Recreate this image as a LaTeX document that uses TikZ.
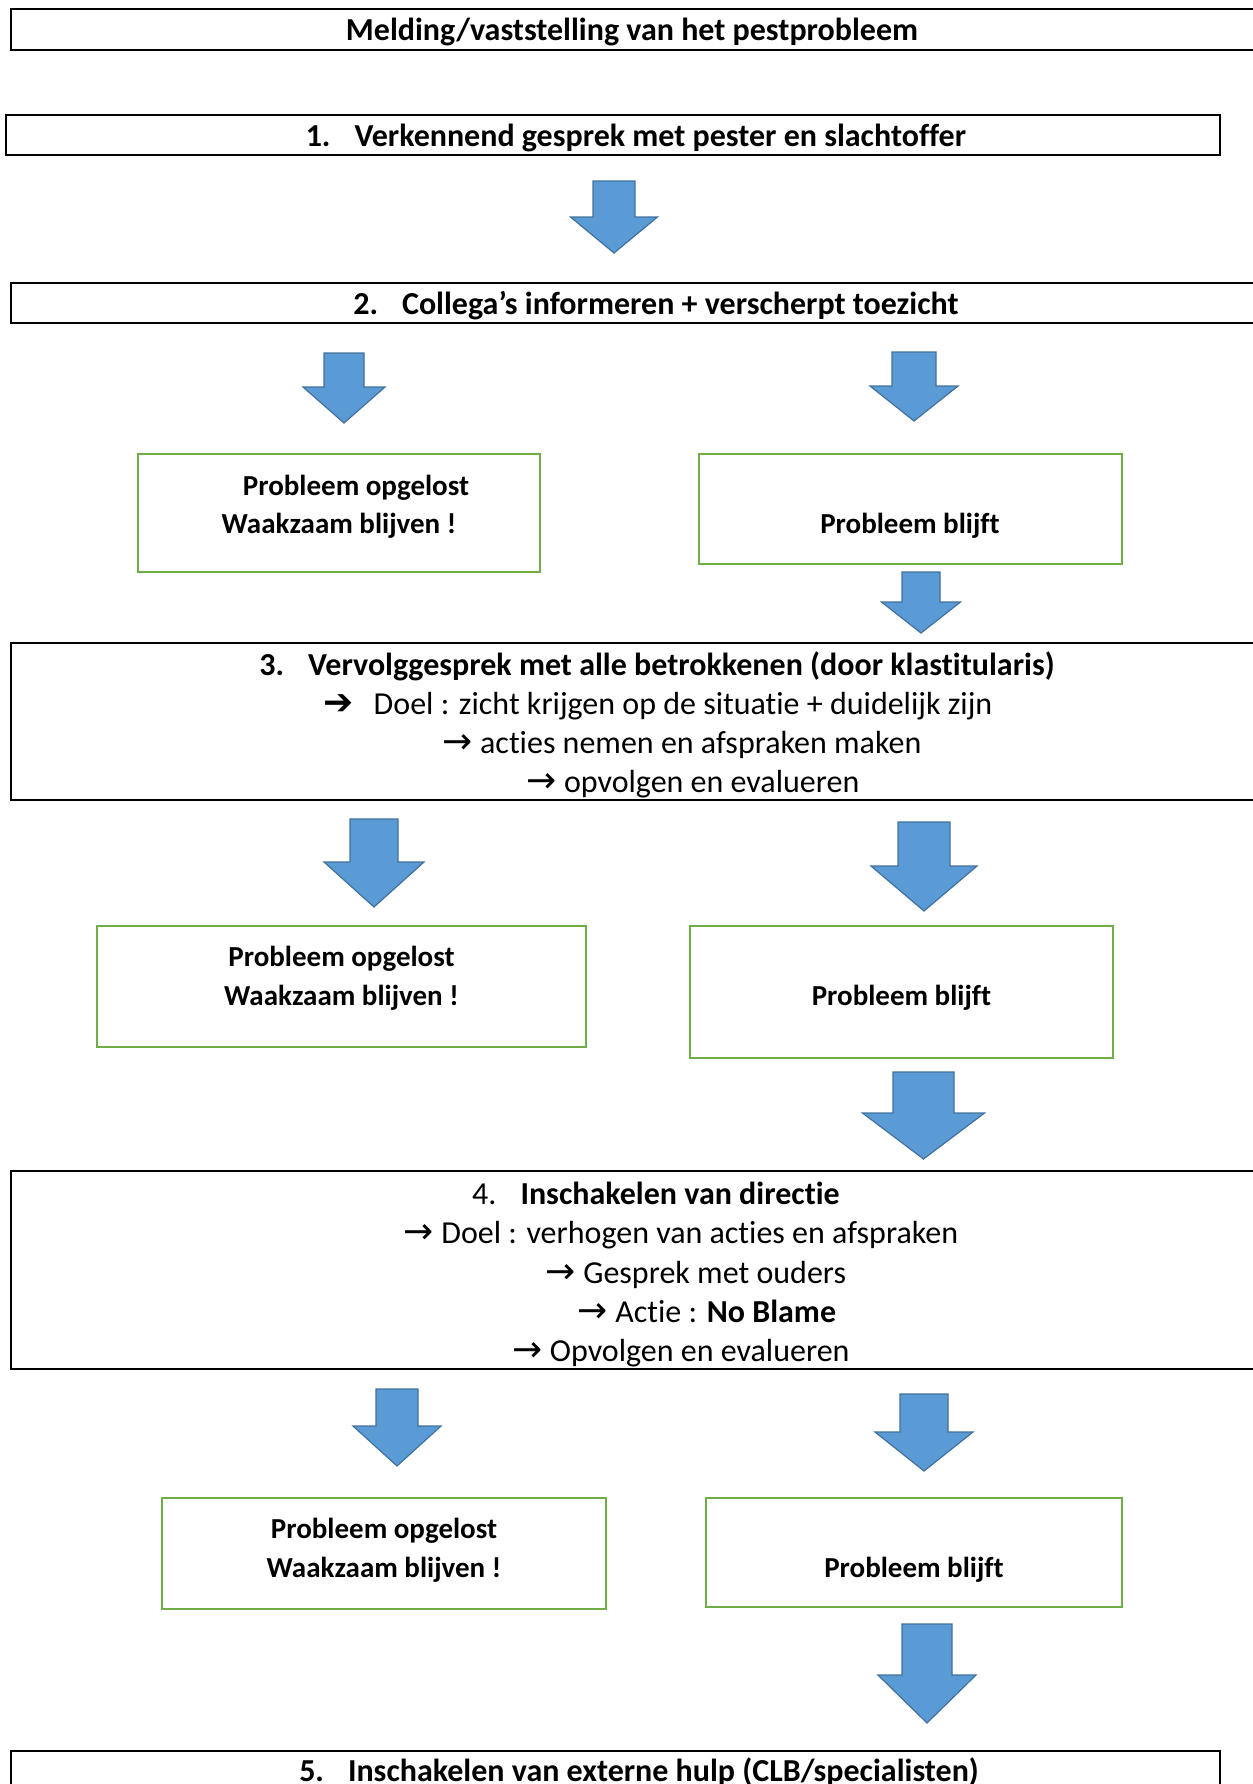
\documentclass[tikz,border=0pt]{standalone}
\usepackage{fontspec}
\setmainfont[Ligatures=NoCommon]{Carlito}
\newfontfamily\symfont{DejaVu Sans}
\usetikzlibrary{fit}
\definecolor{arrowfill}{HTML}{5B9BD5}
\definecolor{arrowline}{HTML}{41719C}
\definecolor{boxgreen}{HTML}{70AD47}
\newcommand\blockarrow[6]{% cx top headstart tip shaftwidth headwidth
  \path[blockarrow] (#1-#5/2,#2) -- (#1+#5/2,#2) -- (#1+#5/2,#3) -- (#1+#6/2,#3) -- (#1,#4)
    -- (#1-#6/2,#3) -- (#1-#5/2,#3) -- cycle;}
\newcommand\thinarr{{\symfont\fontsize{18}{19.5}\selectfont →}}
\begin{document}
\begin{tikzpicture}[x=0.5pt,y=-0.5pt,
  blackbox/.style={draw=black,line width=0.75pt,inner sep=0pt,rectangle},
  greenbox/.style={draw=boxgreen,line width=1pt,inner sep=0pt,rectangle},
  bigtext/.style={font=\fontsize{16}{19.5}\selectfont, inner sep=0pt, anchor=base},
  smalltext/.style={font=\fontsize{14.5}{19.5}\selectfont\bfseries, inner sep=0pt, anchor=base},
  blockarrow/.style={fill=arrowfill,draw=arrowline,line width=0.6pt,line join=miter}]
\useasboundingbox (0,0) rectangle (1253,1784);
\clip (0,0) rectangle (1253,1784);

% black boxes
\node[blackbox, fit={(11,9) (1275,50)}] (b0) {};
\node[blackbox, fit={(6,115) (1220,155)}] (b1) {};
\node[blackbox, fit={(11,283) (1275,323)}] (b2) {};
\node[blackbox, fit={(11,643) (1275,800)}] (b3) {};
\node[blackbox, fit={(11,1171) (1275,1369)}] (b4) {};
\node[blackbox, fit={(11,1751) (1220,1800)}] (b5) {};

% green boxes
\node[greenbox, fit={(138,454) (540,572)}] (g2l) {};
\node[greenbox, fit={(699,454) (1122,564)}] (g2r) {};
\node[greenbox, fit={(97,926) (586,1047)}] (g3l) {};
\node[greenbox, fit={(690,926) (1113,1058)}] (g3r) {};
\node[greenbox, fit={(162,1498) (606,1609)}] (g4l) {};
\node[greenbox, fit={(706,1498) (1122,1607)}] (g4r) {};

% block arrows
\blockarrow{614}{181}{217}{253}{42}{87}
\blockarrow{344}{353}{387}{423}{40}{82}
\blockarrow{914}{352}{386}{421}{44}{88}
\blockarrow{921}{572}{602}{633}{38}{79}
\blockarrow{374}{819}{862}{907}{48}{100}
\blockarrow{924}{822}{866}{911}{52}{106}
\blockarrow{923.5}{1072}{1113}{1159}{61}{122}
\blockarrow{397}{1389}{1426}{1466}{42}{88}
\blockarrow{924}{1394}{1432}{1471}{48}{98}
\blockarrow{927}{1624}{1675}{1723}{50}{98}

% texts in black boxes
\node[bigtext] (t0) at (632,40) {\bfseries Melding/vaststelling van het pestprobleem};
\node[bigtext] (t1) at (636,146) {\bfseries 1.\hspace{12pt}Verkennend gesprek met pester en slachtoffer};
\node[bigtext] (t2) at (656,314) {\bfseries 2.\hspace{12pt}Collega’s informeren + verscherpt toezicht};

\node[bigtext] (t3a) at (657,675) {\bfseries 3.\hspace{12pt}Vervolggesprek met alle betrokkenen (door klastitularis)};
\node[bigtext] (t3b) at (658,714) {{\symfont\bfseries\fontsize{18}{19.5}\selectfont ➔}\hspace{10pt}Doel : zicht krijgen op de situatie + duidelijk zijn};
\node[bigtext] (t3c) at (682,753) {\thinarr\ acties nemen en afspraken maken};
\node[bigtext] (t3d) at (693,792) {\thinarr\ opvolgen en evalueren};

\node[bigtext] (t4a) at (656,1204) {4.\hspace{12pt}\textbf{Inschakelen van directie}};
\node[bigtext] (t4b) at (681,1243) {\thinarr\ Doel : verhogen van acties en afspraken};
\node[bigtext] (t4c) at (696,1283) {\thinarr\ Gesprek met ouders};
\node[bigtext] (t4d) at (707,1322) {\thinarr\ Actie : \textbf{No Blame}};
\node[bigtext] (t4e) at (681,1361) {\thinarr\ Opvolgen en evalueren};

\node[bigtext] (t5) at (639,1781) {\bfseries 5.\hspace{12pt}Inschakelen van externe hulp (CLB/specialisten)};

% texts in green boxes
\node[smalltext] (g2la) at (356,495) {Probleem opgelost};
\node[smalltext] (g2lb) at (339,533) {Waakzaam blijven !};
\node[smalltext] (g2ra) at (910,533) {Probleem blijft};
\node[smalltext] (g3la) at (341.5,966) {Probleem opgelost};
\node[smalltext] (g3lb) at (341.5,1005) {Waakzaam blijven !};
\node[smalltext] (g3ra) at (901.5,1005) {Probleem blijft};
\node[smalltext] (g4la) at (384,1538) {Probleem opgelost};
\node[smalltext] (g4lb) at (384,1577) {Waakzaam blijven !};
\node[smalltext] (g4ra) at (914,1577) {Probleem blijft};
\end{tikzpicture}
\end{document}
